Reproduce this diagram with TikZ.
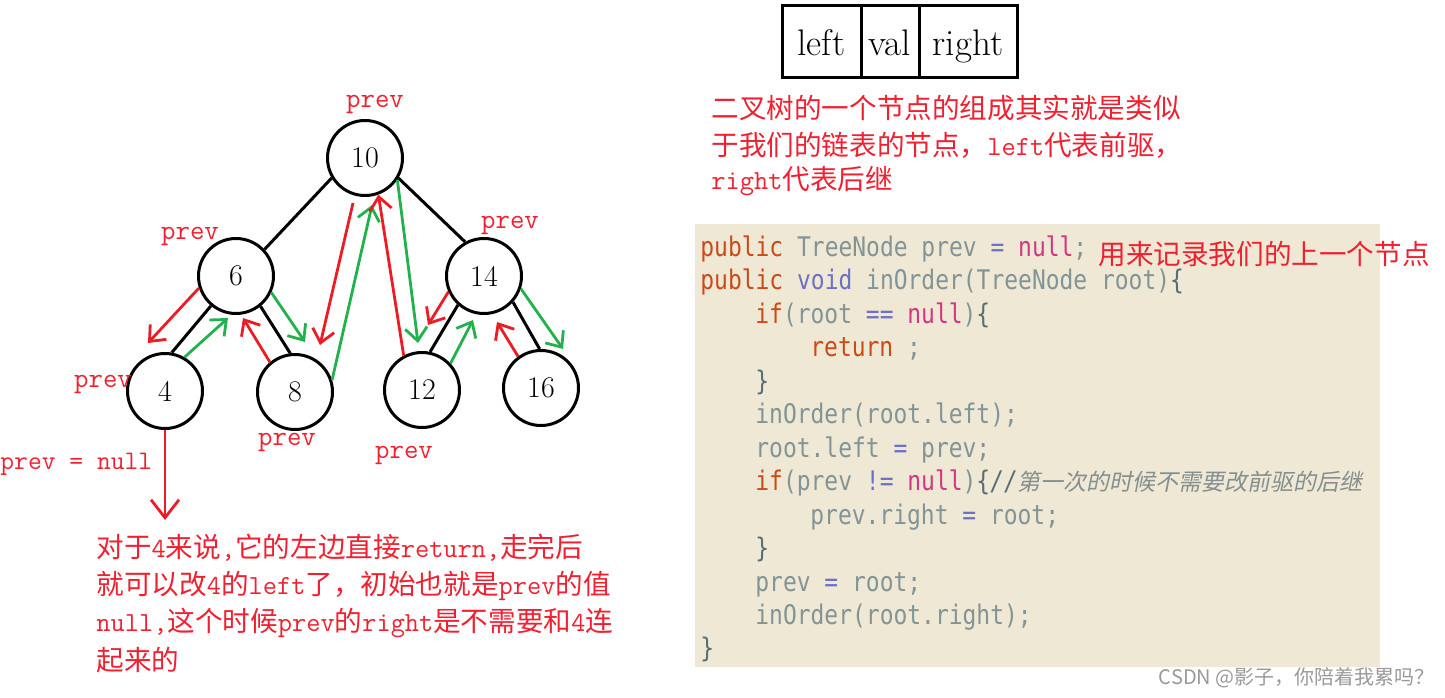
\documentclass[tikz,border=0pt]{standalone}
\usepackage{fontspec}
\usepackage{tikz}
\usetikzlibrary{arrows.meta,calc,positioning}
\newfontfamily\cjk{Noto Sans CJK SC}
\newfontfamily\cjkslant[FakeSlant=0.2]{Noto Sans CJK SC}
\newfontfamily\codefont[FakeStretch=0.85]{DejaVu Sans Mono}
\definecolor{arrowred}{HTML}{ED1C24}
\definecolor{arrowgreen}{HTML}{22B14C}
\definecolor{annotred}{HTML}{F02030}
\definecolor{codebg}{HTML}{EEE8D5}
\definecolor{kwcol}{HTML}{CB4B16}
\definecolor{nullcol}{HTML}{D33682}
\definecolor{opcol}{HTML}{6C71C4}
\definecolor{idcol}{HTML}{839496}
\definecolor{bracecol}{HTML}{586E75}
\definecolor{cmtcol}{HTML}{858F8F}
\newcommand{\codekw}[1]{\textcolor{kwcol}{#1}}
\newcommand{\codenull}[1]{\textcolor{nullcol}{#1}}
\newcommand{\codeop}[1]{\textcolor{opcol}{#1}}
\newcommand{\codebr}[1]{\textcolor{bracecol}{#1}}
\newcommand{\monobit}[1]{{\ttfamily#1}}

\begin{document}
\begin{tikzpicture}[
    x=0.5pt, y=-0.5pt,
    node distance=0pt,
    treenode/.style={draw, circle, line width=1.5pt, minimum size=37.5pt, inner sep=0pt, font=\fontsize{15}{18}\selectfont},
    treeedge/.style={line width=1.5pt},
    redarrow/.style={draw=arrowred, line width=1.4pt, -{Straight Barb[length=6.5pt,width=11pt]}},
    greenarrow/.style={draw=arrowgreen, line width=1.4pt, -{Straight Barb[length=6.5pt,width=11pt]}},
    bigtip/.style={-{Straight Barb[length=9pt,width=14pt]}},
    prevlabel/.style={text=annotred, inner sep=0pt, font=\ttfamily\fontsize{14}{16}\selectfont},
    notetext/.style={text=annotred, anchor=west, inner sep=0pt, font=\cjk\fontsize{13.8}{18}\selectfont},
    cell/.style={draw, line width=1.5pt, minimum height=36pt, inner sep=0pt, outer sep=0pt, text height=16pt, text depth=2pt, font=\fontsize{18.5}{21}\selectfont},
    codeline/.style={anchor=base west, inner sep=0pt, text=idcol, font=\codefont\fontsize{13.5}{16}\selectfont}
  ]
    \useasboundingbox (0,0) rectangle (1445,697);

    \node[treenode] (n10) at (365,158) {10};
    \node[treenode] (n6) at (236,276) {6};
    \node[treenode] (n14) at (484,276) {14};
    \node[treenode] (n4) at (165,391) {4};
    \node[treenode] (n8) at (295,392) {8};
    \node[treenode] (n12) at (422,390) {12};
    \node[treenode] (n16) at (541,388) {16};
    \draw[treeedge] (n10.211) -- (n6.43);
    \draw[treeedge] (n10.329) -- (n14.119);
    \draw[treeedge] (n6.230) -- (n4.80);
    \draw[treeedge] (n6.309) -- (n8.97);
    \draw[treeedge] (n14.228) -- (n12.78);
    \draw[treeedge] (n14.318) -- (n16.92);

    \draw[redarrow] (n6.198) -- ($(n4)+(-17,-48)$);
    \draw[greenarrow] (n4.60) -- ($(n6)+(-8,42)$);
    \draw[redarrow] (n8.130) -- ($(n6)+(7,42)$);
    \draw[greenarrow] (n6.335) -- ($(n8)+(10,-50)$);
    \draw[redarrow] ($(n10)+(-12,45)$) -- ($(n8)+(25,-47)$);
    \draw[greenarrow] (n8.18) -- ($(n10)+(7,47)$);
    \draw[redarrow] (n12.118) -- (n10.290);
    \draw[greenarrow] (n10.326) -- ($(n12)+(-4,-47)$);
    \draw[redarrow] (n14.204) -- ($(n14)+(-56,49)$);
    \draw[greenarrow] (n12.43) -- ($(n14)+(-11,44)$);
    \draw[redarrow] (n16.126) -- ($(n14)+(13,46)$);
    \draw[greenarrow] (n14.341) -- ($(n16)+(22,-39)$);
    \draw[redarrow, bigtip] (n4.south) -- ++(0,90);

    \node[prevlabel] (p10) at (375,104) {prev};
    \node[prevlabel] (p6) at (190,236) {prev};
    \node[prevlabel] (p14) at (510,225) {prev};
    \node[prevlabel] (p4) at (103,384) {prev};
    \node[prevlabel] (p8) at (287,442) {prev};
    \node[prevlabel] (p12) at (404,455) {prev};
    \node[prevlabel, anchor=west, font=\ttfamily\fontsize{13.4}{16}\selectfont] (pnull) at (0,464) {prev = null};

    \node[notetext] (fourA) at (96,548) {对于\monobit{4}来说\monobit{,}它的左边直接\monobit{return,}走完后};
    \node[notetext] (fourB) at (96,586) {就可以改\monobit{4}的\monobit{left}了，初始也就是\monobit{prev}的值};
    \node[notetext] (fourC) at (96,623) {\monobit{null,}这个时候\monobit{prev}的\monobit{right}是不需要和\monobit{4}连};
    \node[notetext] (fourD) at (96,660) {起来的};

    \node[cell, minimum width=39.5pt] (cellL) at (821.5,41) {left};
    \node[cell, minimum width=29pt, right=of cellL] (cellV) {val};
    \node[cell, minimum width=49pt, right=of cellV] (cellR) {right};
    \node[notetext] (nodeA) at (711,108) {二叉树的一个节点的组成其实就是类似};
    \node[notetext] (nodeB) at (711,145) {于我们的链表的节点，\monobit{left}代表前驱，};
    \node[notetext] (nodeC) at (711,181) {\monobit{right}代表后继};

    \fill[codebg] (695,224) rectangle (1380,667);
    \node[codeline] (c1) at (700,256) {\codekw{public} TreeNode prev \codeop{=} \codenull{null};};
    \node[codeline] (c2) at (700,289) {\codekw{public} \codeop{void} inOrder(TreeNode root)\codebr{\{}};
    \node[codeline] (c3) at (755,323) {\codekw{if}(root \codeop{==} \codenull{null})\codebr{\{}};
    \node[codeline] (c4) at (810,356) {\codekw{return} ;};
    \node[codeline] (c5) at (755,390) {\codebr{\}}};
    \node[codeline] (c6) at (755,423) {inOrder(root.left);};
    \node[codeline] (c7) at (755,457) {root.left \codeop{=} prev;};
    \node[codeline] (c8) at (755,490) {\codekw{if}(prev \codeop{!=} \codenull{null})\codebr{\{}\textcolor{bracecol}{\itshape //}{\cjkslant\fontsize{11.5}{14}\selectfont\color{cmtcol}第一次的时候不需要改前驱的后继}};
    \node[codeline] (c9) at (810,524) {prev.right \codeop{=} root;};
    \node[codeline] (c10) at (755,557) {\codebr{\}}};
    \node[codeline] (c11) at (755,591) {prev \codeop{=} root;};
    \node[codeline] (c12) at (755,624) {inOrder(root.right);};
    \node[codeline] (c13) at (700,657) {\codebr{\}}};
    \node[notetext] (prevnote) at (1098,254) {用来记录我们的上一个节点};

    \node[anchor=east, inner sep=0pt, text=gray!80, font=\cjk\fontsize{10}{12}\selectfont] (mark) at (1435,678) {CSDN @影子，你陪着我累吗？};
  \end{tikzpicture}
\end{document}
